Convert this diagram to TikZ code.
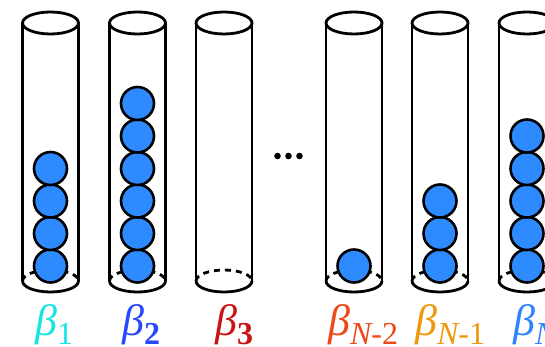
\documentclass[tikz,border=0pt]{standalone}
\usepackage{fontspec}
\setmainfont{Liberation Serif}
\definecolor{ballblue}{RGB}{46,139,255}
\definecolor{labA}{RGB}{24,228,228}
\definecolor{labB}{RGB}{40,72,255}
\definecolor{labC}{RGB}{200,20,20}
\definecolor{labD}{RGB}{236,72,24}
\definecolor{labE}{RGB}{240,152,12}
\definecolor{labF}{RGB}{46,132,255}
\newcommand\betalabel[1]{{\fontsize{44}{44}\selectfont\itshape β}\raisebox{-9pt}[0pt][0pt]{\fontsize{32}{32}\selectfont #1}}
\begin{document}
\begin{tikzpicture}[x=1pt,y=-1pt,
  tubeline/.style={line width=2.8pt},
  ball/.style={circle,draw=black,line width=2.6pt,fill=ballblue,minimum size=33pt,inner sep=0pt},
  dot/.style={circle,fill=black,minimum size=6.6pt,inner sep=0pt},
  betalbl/.style={anchor=base west,inner sep=0pt}]
\useasboundingbox (0,0) rectangle (545,347);
% tubes: name / centre x / number of balls
\foreach \nm/\cx/\nb in {t1/50.5/4, t2/137.5/6, t3/224/0, t4/354/1, t5/440/3, t6/527/5}{
  \draw[tubeline] (\cx-28,23) -- (\cx-28,281);
  \draw[tubeline] (\cx+28,23) -- (\cx+28,281);
  \draw[tubeline] (\cx,23) ellipse [x radius=28, y radius=11];
  % hidden back rim of the bottom
  \draw[tubeline,dash pattern=on 6pt off 5pt] (\cx-28,281) arc[start angle=180,end angle=360,x radius=28,y radius=11];
  % visible front rim of the bottom
  \draw[tubeline] (\cx-28,281) arc[start angle=180,end angle=360,x radius=28,y radius=-11];
  \ifnum\nb>0
    \foreach \k in {1,...,\nb}{
      \node[ball] (\nm-b\k) at (\cx,{266-32.5*(\k-1)}) {};
    }
  \fi
}
% ellipsis between the tubes
\node[dot] (d1) at (277.5,156) {};
\node[dot] (d2) at (288.5,156) {};
\node[dot] (d3) at (299.5,156) {};
% labels
\node[betalbl,text=labA] (l1) at (35,335) {\betalabel{1}};
\node[betalbl,text=labB] (l2) at (122,335) {\betalabel{\bfseries 2}};
\node[betalbl,text=labC] (l3) at (215,335) {\betalabel{\bfseries 3}};
\node[betalbl,text=labD] (l4) at (328,335) {\betalabel{\itshape N\upshape -2}};
\node[betalbl,text=labE] (l5) at (415,335) {\betalabel{\itshape N\upshape -1}};
\node[betalbl,text=labF] (l6) at (513,335) {\betalabel{\itshape N}};
\end{tikzpicture}
\end{document}
